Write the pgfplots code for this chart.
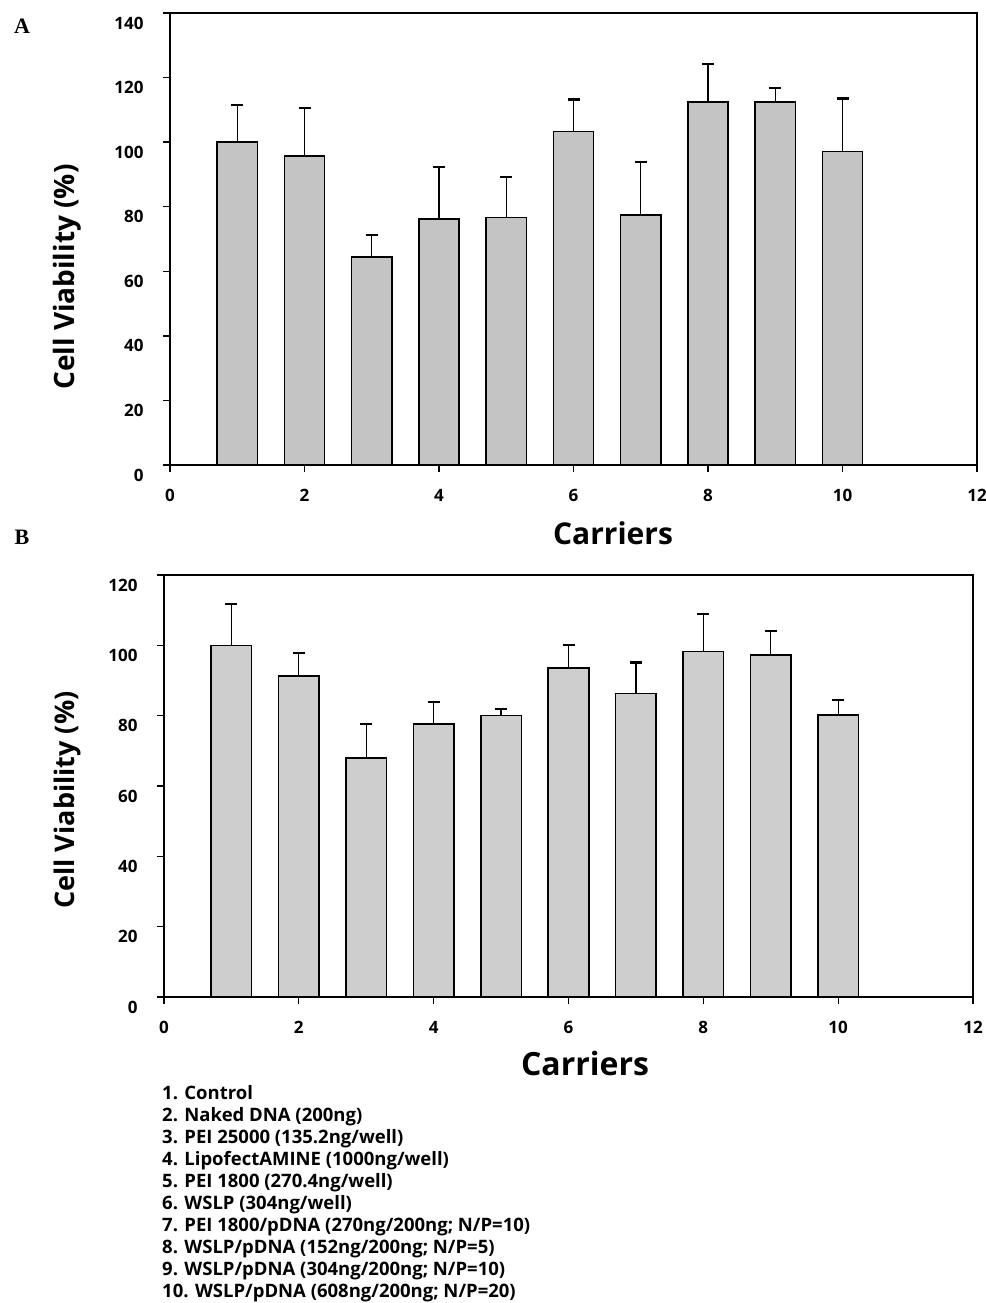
\documentclass[border=0pt]{standalone}
\usepackage{pgfplots}
\pgfplotsset{compat=1.18}
\usepackage{fontspec}
\setmainfont{Open Sans}
\newfontfamily\serifpanel{Liberation Serif}
\definecolor{barA}{RGB}{196,196,196}
\definecolor{barB}{RGB}{206,206,206}
\pgfplotsset{
  panel/.style={
    scale only axis,
    axis line style={line width=1.5pt},
    xmin=0, xmax=12,
    xtick={0,2,...,12},
    tick pos=left,
    tick align=outside,
    major tick length=7pt,
    every tick/.style={black, line width=1.3pt},
    /pgf/number format/assume math mode=true,
    ticklabel style={font=\bfseries\fontsize{17}{17}\selectfont},
    yticklabel style={yshift=-10pt, xshift=-16pt},
    xticklabel style={yshift=-14pt},
    enlargelimits=false,
    clip=false,
  },
  bars/.style={
    ybar, bar width=0.6, draw=black, line width=1.6pt,
    error bars/.cd, y dir=plus, y explicit,
    error bar style={line width=1.3pt, black},
    error mark options={rotate=90, line width=2.2pt, mark size=6pt, black},
    /pgfplots/.cd,
  },
}
\begin{document}
\begin{tikzpicture}
\useasboundingbox (0pt,0pt) rectangle (985pt,-1303pt);

% Panel A
\begin{axis}[panel,
  at={(170pt,-465pt)}, anchor=south west,
  width=807pt, height=452pt,
  ymin=0, ymax=140, ytick={0,20,...,140}]
\addplot[fill=barA, bars] coordinates {
  (1,100.0) +- (0,11.5)
  (2,95.8)  +- (0,14.7)
  (3,64.5)  +- (0,6.7)
  (4,76.2)  +- (0,16.0)
  (5,76.6)  +- (0,12.5)
  (6,103.3) +- (0,9.9)
  (7,77.5)  +- (0,16.3)
  (8,112.4) +- (0,11.8)
  (9,112.4) +- (0,4.4)
  (10,97.1) +- (0,16.4)
};
\end{axis}

% Panel B
\begin{axis}[panel,
  at={(164pt,-997pt)}, anchor=south west,
  width=809pt, height=422pt,
  ymin=0, ymax=120, ytick={0,20,...,120}]
\addplot[fill=barB, bars] coordinates {
  (1,100.0) +- (0,11.8)
  (2,91.3)  +- (0,6.5)
  (3,68.0)  +- (0,9.6)
  (4,77.6)  +- (0,6.4)
  (5,80.0)  +- (0,1.8)
  (6,93.5)  +- (0,6.7)
  (7,86.3)  +- (0,8.8)
  (8,98.3)  +- (0,10.6)
  (9,97.3)  +- (0,6.7)
  (10,80.2) +- (0,4.3)
};
\end{axis}

% panel letters
\node[font=\serifpanel\bfseries\fontsize{22}{22}\selectfont] at (22pt,-26pt) {A};
\node[font=\serifpanel\bfseries\fontsize{22}{22}\selectfont] at (22pt,-537pt) {B};

% axis titles
\node[rotate=90, font=\bfseries\fontsize{28}{28}\selectfont] at (67pt,-277pt) {Cell Viability (\%)};
\node[font=\bfseries\fontsize{30}{30}\selectfont] at (613pt,-533pt) {Carriers};
\node[rotate=90, font=\bfseries\fontsize{27}{27}\selectfont] at (67pt,-800pt) {Cell Viability (\%)};
\node[font=\bfseries\fontsize{32}{32}\selectfont] at (585pt,-1063pt) {Carriers};

% key
\node[anchor=west, align=left, inner sep=0pt,
      font=\bfseries\fontsize{18.5}{22}\selectfont] at (162pt,-1194pt) {%
1. Control\\
2. Naked DNA (200ng)\\
3. PEI 25000 (135.2ng/well)\\
4. LipofectAMINE (1000ng/well)\\
5. PEI 1800 (270.4ng/well)\\
6. WSLP (304ng/well)\\
7. PEI 1800/pDNA (270ng/200ng; N/P=10)\\
8. WSLP/pDNA (152ng/200ng; N/P=5)\\
9. WSLP/pDNA (304ng/200ng; N/P=10)\\
10. WSLP/pDNA (608ng/200ng; N/P=20)};
\end{tikzpicture}
\end{document}
